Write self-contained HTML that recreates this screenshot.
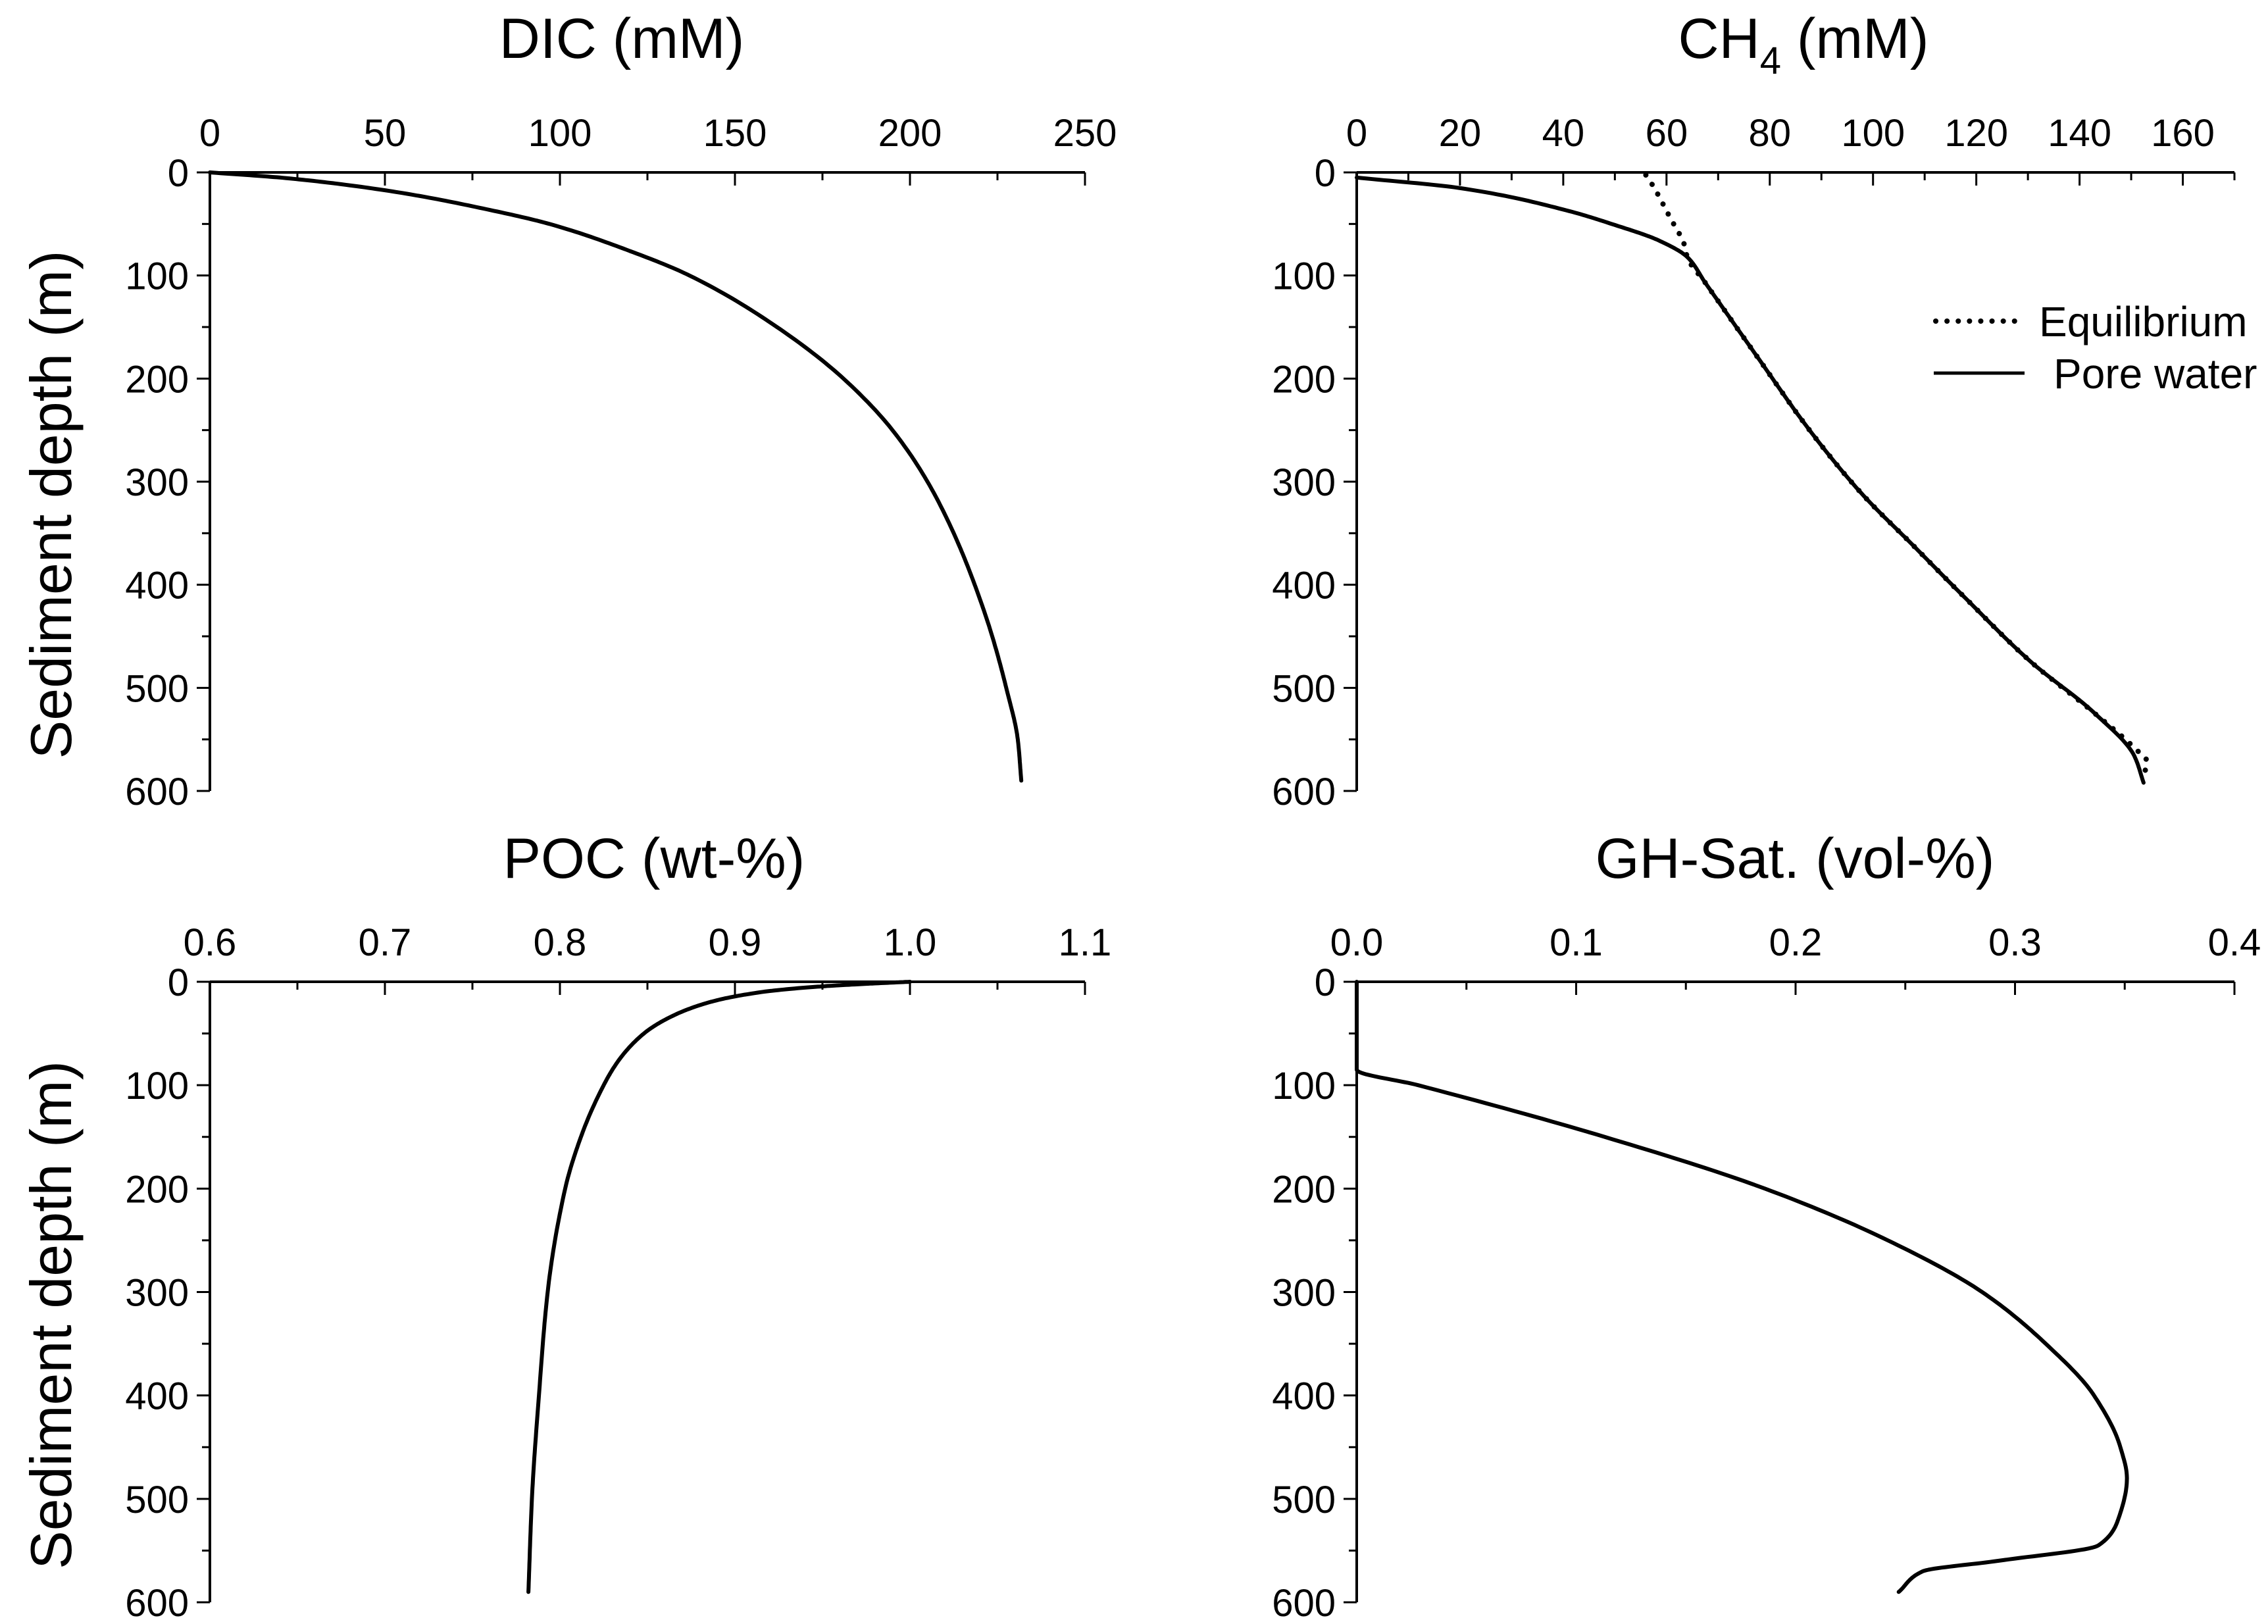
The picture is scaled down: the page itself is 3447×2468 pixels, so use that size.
<!DOCTYPE html>
<html><head><meta charset="utf-8"><style>
html,body{margin:0;padding:0;background:#fff;}
svg{display:block;font-family:"Liberation Sans",Arial,sans-serif;}
</style></head><body>
<svg id="fig" width="3447" height="2468" viewBox="0 0 3447 2468" xmlns="http://www.w3.org/2000/svg"></svg>
<script>
// ---- data ----
const dicDepth=[0,5,10,20,35,50,75,100,150,200,250,300,350,400,450,500,550,590];
const dicVal=[0,20,34,55,78,97,119,137,162,181,195,205,212.5,218.5,223.5,227.5,230.8,231.8];
const ch4Depth=[5,15,36,51,66,82,107,179,250,311,362,413,474,525,566,592];
const ch4Pore=[0,19.7,40,50,58.5,64,67.5,77.6,87.7,97.7,107.8,117.9,130.4,143,150.6,152.4];
const eqDepth=[2.5,14,43,71,82,107,179,250,311,362,413,474,525,560,571,587];
const eqVal=[56,57.5,60.6,63.5,64,67.5,77.6,87.7,97.7,107.8,117.9,130.4,143,151,153,152.4];
const pocDepth=[0,2,5,10,20,35,50,75,100,150,200,300,400,500,590];
const pocVal=[1.0,0.975,0.945,0.915,0.885,0.862,0.848,0.834,0.825,0.812,0.803,0.793,0.788,0.784,0.782];
const ghDepth=[0,85,100,150,200,250,300,350,400,450,480,520,545,560,570,590];
const ghVal=[0,0,0.028,0.113,0.186,0.242,0.285,0.314,0.336,0.348,0.351,0.347,0.338,0.292,0.258,0.247];
const dicTicks=[0,50,100,150,200,250];
const ch4Ticks=[0,20,40,60,80,100,120,140,160];
const pocTicks=[0.6,0.7,0.8,0.9,1.0,1.1];
const ghTicks=[0.0,0.1,0.2,0.3,0.4];
const depthTicks=[0,100,200,300,400,500,600];

const NS="http://www.w3.org/2000/svg";
const svg=document.getElementById('fig');
function mk(tag,attrs,parent){const e=document.createElementNS(NS,tag);for(const k in attrs)e.setAttribute(k,attrs[k]);(parent||svg).appendChild(e);return e;}

function panel(name,x0,x1,y0,y1,xmin,xmax,ticks,minorStep,fmt,title,titleX,titleY,showY){
  const g=mk('g',{});
  
  
  const sx=v=>x0+(v-xmin)/(xmax-xmin)*(x1-x0);
  const sy=d=>y0+d/600*(y1-y0);
  const ax=mk('line',{x1:x0,y1:y0,x2:x1,y2:y0,stroke:'#000','stroke-width':4},g);
  
  
  const ay=mk('line',{x1:x0,y1:y0,x2:x0,y2:y1,stroke:'#000','stroke-width':4},g);
  
  
  for(let v=xmin;v<=xmax+1e-9;v+=minorStep){
    const major=ticks.some(t=>Math.abs(t-v)<1e-9);
    mk('line',{x1:sx(v),y1:y0,x2:sx(v),y2:y0+(major?20:12),stroke:'#000','stroke-width':3},g);
  }
  ticks.forEach(t=>{
    const tx=mk('text',{x:sx(t),y:y0-40,'font-size':58,'text-anchor':'middle'},g);
    tx.textContent=fmt(t);
    
    
  });
  for(let d=0;d<=600;d+=50){
    const major=d%100===0;
    mk('line',{x1:x0,y1:sy(d),x2:x0-(major?20:12),y2:sy(d),stroke:'#000','stroke-width':3},g);
  }
  depthTicks.forEach(d=>{
    const tx=mk('text',{x:x0-32,y:sy(d)+21,'font-size':58,'text-anchor':'end'},g);
    tx.textContent=d;
    
    
  });
  const tt=mk('text',{x:titleX,y:titleY,'font-size':86,'text-anchor':'middle'},g);
  tt.innerHTML=title;
  
  
  if(showY){
    const yc=(y0+y1)/2+35;
    const yt=mk('text',{x:0,y:0,'font-size':88,'text-anchor':'middle',transform:`translate(108 ${yc}) rotate(-90)`},g);
    yt.textContent='Sediment depth (m)';
    
    
  }
  return {g,sx,sy};
}
// monotone cubic (Fritsch-Carlson) of value as function of depth
function monotone(xs,ys){
  const n=xs.length,dx=[],m=[],t=new Array(n);
  for(let i=0;i<n-1;i++){dx.push(xs[i+1]-xs[i]);m.push((ys[i+1]-ys[i])/dx[i]);}
  t[0]=m[0];t[n-1]=m[n-2];
  for(let i=1;i<n-1;i++){t[i]=(m[i-1]*m[i]<=0)?0:(dx[i-1]+dx[i])*3/((2*dx[i]+dx[i-1])/m[i-1]+(dx[i]+2*dx[i-1])/m[i]);}
  const out=[];
  for(let i=0;i<n-1;i++){
    const steps=20;
    for(let s=0;s<steps;s++){
      const u=s/steps,h=dx[i];
      const h00=2*u*u*u-3*u*u+1,h10=u*u*u-2*u*u+u,h01=-2*u*u*u+3*u*u,h11=u*u*u-u*u;
      out.push([xs[i]+u*h,h00*ys[i]+h10*h*t[i]+h01*ys[i+1]+h11*h*t[i+1]]);
    }
  }
  out.push([xs[n-1],ys[n-1]]);
  return out;
}
function curve(p,vals,depths,name,dash){
  const pts=monotone(depths,vals);
  const d=pts.map((q,i)=>(i?'L':'M')+p.sx(q[1]).toFixed(1)+' '+p.sy(q[0]).toFixed(1)).join(' ');
  const a={d:d,fill:'none',stroke:'#000','stroke-width':dash?8:6,'stroke-linejoin':'round','stroke-linecap':'round'};
  if(dash){a['stroke-dasharray']='0.1 17';}
  const e=mk('path',a,p.g);
  
  
}

const p1=panel('dic',319,1649,262,1202,0,250,dicTicks,25,v=>v,'DIC (mM)',945,88,true);
curve(p1,dicVal,dicDepth,'dic-line',false);

const p2=panel('ch4',2062,3396,262,1202,0,170,ch4Ticks,10,v=>v,'CH<tspan font-size="58" dy="24">4</tspan><tspan dy="-24"> (mM)</tspan>',2741,88,false);
curve(p2,eqVal,eqDepth,'ch4-equilibrium-line',true);
curve(p2,ch4Pore,ch4Depth,'ch4-pore-water-line',false);
// legend
const lg=mk('g',{});


const l1=mk('line',{x1:2942,y1:488,x2:3077,y2:488,stroke:'#000','stroke-width':8,'stroke-dasharray':'0.1 17','stroke-linecap':'round'},lg);


const t1=mk('text',{x:3099,y:511,'font-size':64},lg);t1.textContent='Equilibrium';


const l2=mk('line',{x1:2939,y1:567,x2:3077,y2:567,stroke:'#000','stroke-width':5},lg);


const t2=mk('text',{x:3121,y:590,'font-size':64},lg);t2.textContent='Pore water';



const p3=panel('poc',319,1649,1492,2435,0.6,1.1,pocTicks,0.05,v=>v.toFixed(1),'POC (wt-%)',994,1334,true);
curve(p3,pocVal,pocDepth,'poc-line',false);

const p4=panel('gh',2062,3396,1492,2435,0,0.4,ghTicks,0.05,v=>v.toFixed(1),'GH-Sat. (vol-%)',2728,1334,false);
curve(p4,ghVal,ghDepth,'gh-sat-line',false);
</script>
</body></html>
